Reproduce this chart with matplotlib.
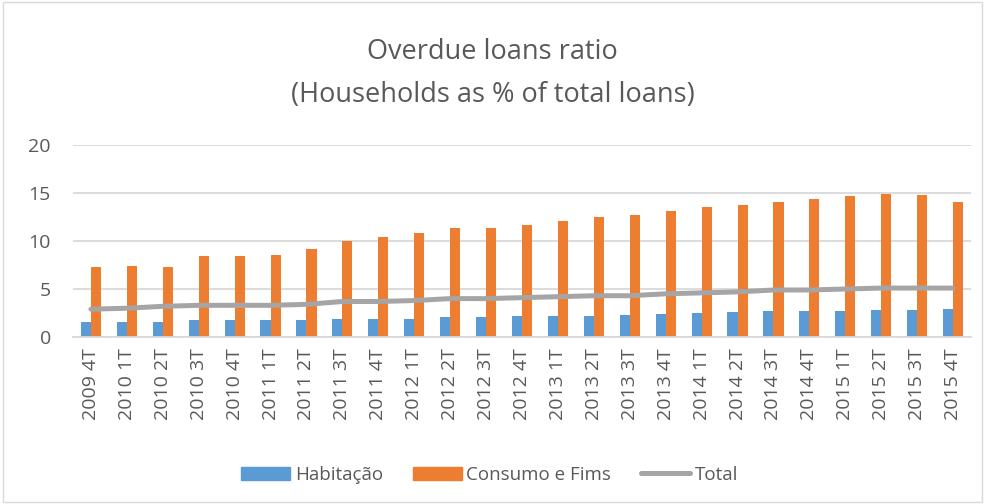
import numpy as np
import matplotlib.pyplot as plt
from matplotlib.patches import Patch, Rectangle
from matplotlib.lines import Line2D

quarters = ["2009 4T", "2010 1T", "2010 2T", "2010 3T", "2010 4T", "2011 1T", "2011 2T",
            "2011 3T", "2011 4T", "2012 1T", "2012 2T", "2012 3T", "2012 4T", "2013 1T",
            "2013 2T", "2013 3T", "2013 4T", "2014 1T", "2014 2T", "2014 3T", "2014 4T",
            "2015 1T", "2015 2T", "2015 3T", "2015 4T"]
habitacao = [1.6, 1.6, 1.6, 1.8, 1.8, 1.8, 1.8, 1.9, 1.9, 1.9, 2.1, 2.1, 2.2, 2.2,
             2.2, 2.3, 2.4, 2.5, 2.6, 2.7, 2.7, 2.7, 2.8, 2.8, 2.9]
consumo = [7.3, 7.4, 7.3, 8.4, 8.4, 8.5, 9.2, 10.0, 10.4, 10.8, 11.4, 11.4, 11.7, 12.1,
           12.5, 12.7, 13.1, 13.5, 13.7, 14.1, 14.4, 14.7, 14.9, 14.8, 14.1]
total = [2.9, 3.0, 3.2, 3.3, 3.3, 3.3, 3.4, 3.7, 3.7, 3.8, 4.0, 4.0, 4.1, 4.2,
         4.3, 4.3, 4.5, 4.6, 4.7, 4.9, 4.9, 5.0, 5.1, 5.1, 5.1]

BLUE = "#5B9BD5"
ORANGE = "#ED7D31"
GRAY = "#A5A5A5"
TXT = "#595959"
GRID = "#D9D9D9"

plt.rcParams["font.family"] = ["Open Sans", "DejaVu Sans"]

fig = plt.figure(figsize=(9.85, 5.04), dpi=100)
ax = fig.add_axes([0.0741, 0.3313, 0.9117, 0.381])

x = np.arange(len(quarters))
w = 0.28
ax.bar(x - w / 2, habitacao, width=w, color=BLUE, zorder=2)
ax.bar(x + w / 2, consumo, width=w, color=ORANGE, zorder=2)
ax.plot(x, total, color=GRAY, lw=3.6, solid_capstyle="round", zorder=3)

ax.set_xlim(-0.5, len(quarters) - 0.5)
ax.set_ylim(0, 20)
ax.set_yticks([0, 5, 10, 15, 20])
ax.grid(axis="y", color=GRID, lw=1.3, zorder=0)
ax.set_axisbelow(True)
for s in ["top", "right", "left"]:
    ax.spines[s].set_visible(False)
ax.spines["bottom"].set_color(GRID)
ax.spines["bottom"].set_linewidth(1.3)
ax.tick_params(length=0, colors=TXT, labelsize=14)
ax.tick_params(axis="y", pad=16)
ax.tick_params(axis="x", pad=8)
ax.set_xticks(x)
ax.set_xticklabels(quarters, rotation=90)

fig.text(0.5, 0.897, "Overdue loans ratio", ha="center", va="center", fontsize=19.5, color=TXT)
fig.text(0.5, 0.812, "(Households as % of total loans)", ha="center", va="center", fontsize=19.5, color=TXT)

handles = [Patch(color=BLUE), Patch(color=ORANGE),
           Line2D([0], [0], color=GRAY, lw=3.6, solid_capstyle="round")]
fig.legend(handles, ["Habitação", "Consumo e Fims", "Total"], loc="center",
           bbox_to_anchor=(0.497, 0.058), ncol=3, frameon=False, fontsize=13.5,
           labelcolor=TXT, handlelength=2.6, handleheight=0.7, handletextpad=0.25,
           columnspacing=1.6)

fig.patches.append(Rectangle((0.003, 0.003), 0.994, 0.994, transform=fig.transFigure,
                             fill=False, edgecolor=GRID, lw=1))

fig.savefig("out.png", dpi=100)
